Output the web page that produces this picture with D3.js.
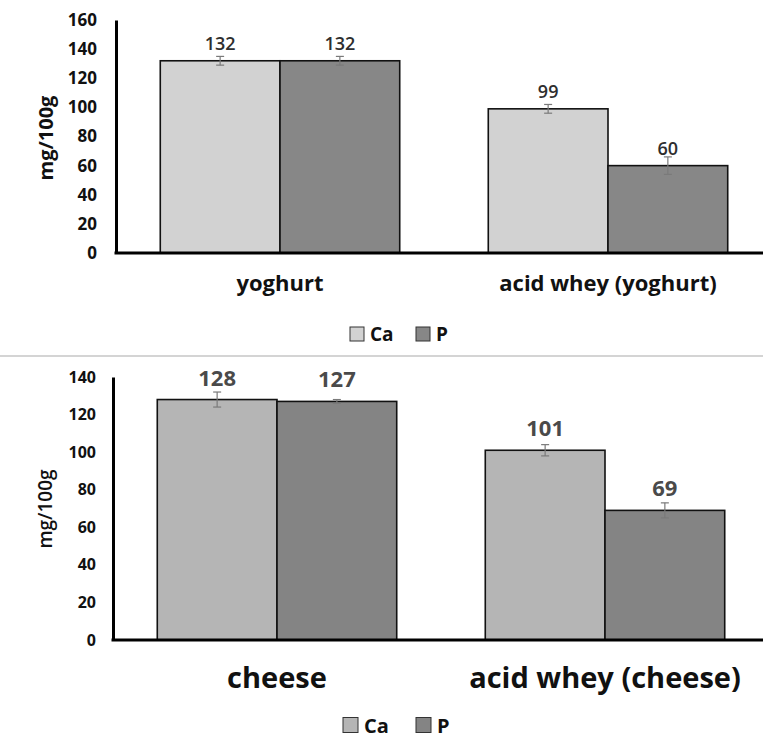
<!DOCTYPE html>
<html>
<head>
<meta charset="utf-8">
<script src="https://cdn.jsdelivr.net/npm/d3@7"></script>
<style>
  html, body { margin: 0; padding: 0; background: #fff; }
  svg { display: block; font-family: "Open Sans", "DejaVu Sans", sans-serif; }
</style>
</head>
<body>
<svg id="chart" width="763" height="738"></svg>
<script>
// Mineral content (mg/100g) of dairy products and their acid whey
const seriesNames = ["Ca", "P"];

const categoriesTop = ["yoghurt", "acid whey (yoghurt)"];
const caTop = [132, 99];
const pTop = [132, 60];
const caErrTop = [3, 3];
const pErrTop = [3, 6];
const ticksTop = [0, 20, 40, 60, 80, 100, 120, 140, 160];

const categoriesBottom = ["cheese", "acid whey (cheese)"];
const caBottom = [128, 101];
const pBottom = [127, 69];
const caErrBottom = [4, 3];
const pErrBottom = [1, 4];
const ticksBottom = [0, 20, 40, 60, 80, 100, 120, 140];

const svg = d3.select("#chart");

function drawPanel(cfg) {
  const g = svg.append("g");
  const rows = cfg.categories.map((c, i) => ({
    category: c,
    values: [
      { series: seriesNames[0], value: cfg.ca[i], err: cfg.caErr[i] },
      { series: seriesNames[1], value: cfg.p[i], err: cfg.pErr[i] }
    ]
  }));

  const x = d3.scaleBand()
    .domain(cfg.categories)
    .range([cfg.left, cfg.left + 656])
    .paddingInner(0.27)
    .paddingOuter(0.135);
  const xs = d3.scaleBand()
    .domain(seriesNames)
    .range([0, x.bandwidth()]);
  const y = d3.scaleLinear()
    .domain([0, d3.max(cfg.ticks)])
    .range([cfg.bottom, cfg.top]);
  const color = d3.scaleOrdinal().domain(seriesNames).range(cfg.colors);

  // bars
  const groups = g.selectAll("g.grp").data(rows).join("g")
    .attr("class", "grp")
    .attr("transform", d => `translate(${x(d.category)},0)`);

  groups.selectAll("rect").data(d => d.values).join("rect")
    .attr("x", d => xs(d.series))
    .attr("y", d => y(d.value))
    .attr("width", xs.bandwidth())
    .attr("height", d => y(0) - y(d.value))
    .attr("fill", d => color(d.series))
    .attr("stroke", "#111")
    .attr("stroke-width", 1.6);

  // error bars
  const eb = groups.selectAll("g.err").data(d => d.values).join("g")
    .attr("class", "err")
    .attr("stroke", "#7a7a7a")
    .attr("stroke-width", 1.2);
  eb.append("line")
    .attr("x1", d => xs(d.series) + xs.bandwidth() / 2)
    .attr("x2", d => xs(d.series) + xs.bandwidth() / 2)
    .attr("y1", d => y(d.value + d.err))
    .attr("y2", d => y(d.value - d.err));
  [1, -1].forEach(s => {
    eb.append("line")
      .attr("x1", d => xs(d.series) + xs.bandwidth() / 2 - 4)
      .attr("x2", d => xs(d.series) + xs.bandwidth() / 2 + 4)
      .attr("y1", d => y(d.value + s * d.err))
      .attr("y2", d => y(d.value + s * d.err));
  });

  // value labels
  groups.selectAll("text.val").data(d => d.values).join("text")
    .attr("class", "val")
    .attr("x", d => xs(d.series) + xs.bandwidth() / 2)
    .attr("y", d => y(d.value) - cfg.valueOffset)
    .attr("text-anchor", "middle")
    .attr("font-size", cfg.valueSize)
    .attr("font-weight", cfg.valueWeight)
    .attr("fill", cfg.valueColor)
    .text(d => d.value);

  // y axis
  const yAxis = g.append("g")
    .attr("transform", `translate(${cfg.left},0)`)
    .call(d3.axisLeft(y).tickValues(cfg.ticks).tickSize(0).tickPadding(cfg.tickPad));
  yAxis.select(".domain").attr("stroke", "#000").attr("stroke-width", 3);
  yAxis.selectAll(".tick text")
    .attr("font-family", "'Open Sans', sans-serif")
    .attr("font-size", cfg.tickSize)
    .attr("font-weight", 700)
    .attr("fill", "#111");

  // x axis
  const xAxis = g.append("g")
    .attr("transform", `translate(0,${cfg.bottom})`)
    .call(d3.axisBottom(x).tickSize(0).tickPadding(0));
  xAxis.select(".domain").attr("stroke", "#000").attr("stroke-width", 3)
    .attr("d", `M${cfg.left - 1.5},0H763`);
  xAxis.selectAll(".tick text")
    .attr("font-family", "'Open Sans', sans-serif")
    .attr("font-size", cfg.catSize)
    .attr("font-weight", 700)
    .attr("fill", "#111")
    .attr("dy", null)
    .attr("y", cfg.catOffset);

  // y axis title
  g.append("text")
    .attr("transform", `translate(${cfg.titleX},${cfg.titleY}) rotate(-90)`)
    .attr("text-anchor", "middle")
    .attr("dominant-baseline", "central")
    .attr("font-size", cfg.titleSize)
    .attr("font-weight", cfg.titleWeight)
    .attr("fill", "#111")
    .text("mg/100g");

  // legend
  const leg = g.append("g").attr("transform", `translate(0,${cfg.legendY})`);
  seriesNames.forEach((s, i) => {
    const lx = cfg.legendX[i];
    leg.append("rect")
      .attr("x", lx)
      .attr("y", -cfg.legendBox / 2)
      .attr("width", cfg.legendBox)
      .attr("height", cfg.legendBox)
      .attr("fill", color(s))
      .attr("stroke", "#333")
      .attr("stroke-width", 1);
    leg.append("text")
      .attr("x", lx + cfg.legendBox + 6)
      .attr("y", 0)
      .attr("dominant-baseline", "central")
      .attr("font-size", cfg.legendSize)
      .attr("font-weight", 700)
      .attr("fill", "#111")
      .text(s);
  });
}

drawPanel({
  categories: categoriesTop, ca: caTop, p: pTop, caErr: caErrTop, pErr: pErrTop,
  ticks: ticksTop, left: 116, top: 20, bottom: 253,
  colors: ["#d2d2d2", "#878787"],
  valueOffset: 11, valueSize: 18, valueWeight: 600, valueColor: "#2e2e2e",
  tickSize: 17, tickPad: 19,
  catSize: 22, catOffset: 38,
  titleX: 45, titleY: 138, titleSize: 20, titleWeight: 700,
  legendY: 334, legendX: [350, 416], legendBox: 14, legendSize: 19
});

// divider between the two panels
svg.append("line")
  .attr("x1", 0).attr("x2", 763)
  .attr("y1", 356).attr("y2", 356)
  .attr("stroke", "#d4d4d4").attr("stroke-width", 2);

drawPanel({
  categories: categoriesBottom, ca: caBottom, p: pBottom, caErr: caErrBottom, pErr: pErrBottom,
  ticks: ticksBottom, left: 113, top: 377, bottom: 640,
  colors: ["#b5b5b5", "#848484"],
  valueOffset: 14, valueSize: 22, valueWeight: 700, valueColor: "#4a4a4a",
  tickSize: 16, tickPad: 17,
  catSize: 29, catOffset: 48,
  titleX: 45, titleY: 509, titleSize: 19, titleWeight: 600,
  legendY: 725, legendX: [343, 416], legendBox: 15, legendSize: 20
});
</script>
</body>
</html>
